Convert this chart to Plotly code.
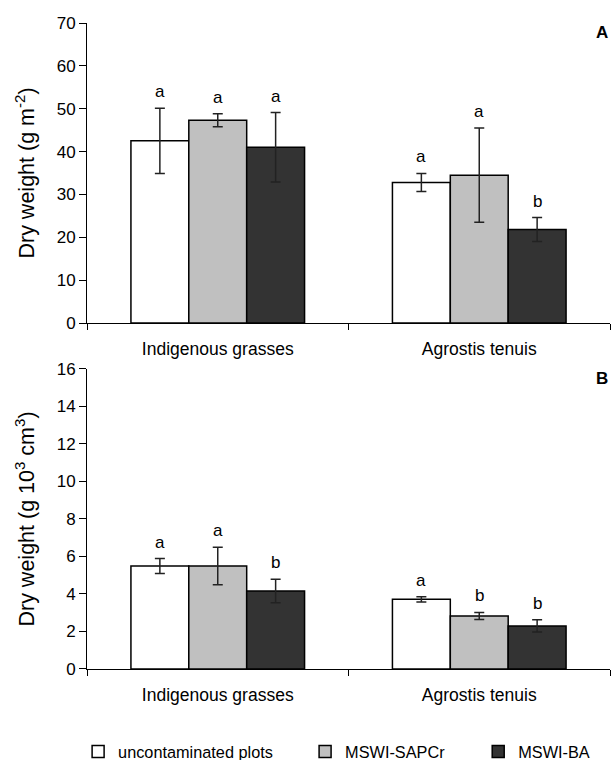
import plotly.graph_objects as go
from plotly.subplots import make_subplots

categories = ["Indigenous grasses", "Agrostis tenuis"]
series_names = ["uncontaminated plots", "MSWI-SAPCr", "MSWI-BA"]
colors = ["#FFFFFF", "#C0C0C0", "#333333"]

# Panel A: dry weight (g m-2)
a_uncont = [42.5, 32.8]
a_sapcr = [47.3, 34.5]
a_ba = [41.0, 21.8]
a_uncont_err = [7.6, 2.1]
a_sapcr_err = [1.5, 11.0]
a_ba_err = [8.1, 2.8]
a_letters_uncont = ["a", "a"]
a_letters_sapcr = ["a", "a"]
a_letters_ba = ["a", "b"]

# Panel B: dry weight (g 10^3 cm^3)
b_uncont = [5.49, 3.72]
b_sapcr = [5.49, 2.83]
b_ba = [4.16, 2.30]
b_uncont_err = [0.40, 0.14]
b_sapcr_err = [1.00, 0.19]
b_ba_err = [0.63, 0.33]
b_letters_uncont = ["a", "a"]
b_letters_sapcr = ["a", "b"]
b_letters_ba = ["b", "b"]

bargap = 0.336
FONT = "Liberation Sans"

fig = make_subplots(rows=2, cols=1, vertical_spacing=0.0712, shared_xaxes=False)

panels = [
    (1, [a_uncont, a_sapcr, a_ba], [a_uncont_err, a_sapcr_err, a_ba_err],
     [a_letters_uncont, a_letters_sapcr, a_letters_ba]),
    (2, [b_uncont, b_sapcr, b_ba], [b_uncont_err, b_sapcr_err, b_ba_err],
     [b_letters_uncont, b_letters_sapcr, b_letters_ba]),
]
legend_ids = ["legend", "legend2", "legend3"]

barw = (1 - bargap) / 3
for row, vals, errs, letters in panels:
    for j in range(3):
        fig.add_trace(go.Bar(
            x=categories, y=vals[j], name=series_names[j],
            marker=dict(color=colors[j], line=dict(color="black", width=1.5)),
            error_y=dict(type="data", array=errs[j], color="#222222", thickness=1.5, width=5),
            showlegend=(row == 1), legend=legend_ids[j],
        ), row=row, col=1)
        for i in range(len(categories)):
            fig.add_annotation(
                x=i + (j - 1) * barw, y=vals[j][i] + errs[j][i],
                xref="x" if row == 1 else "x2", yref="y" if row == 1 else "y2",
                text=letters[j][i], showarrow=False, yanchor="bottom", yshift=5,
                font=dict(size=17, color="black", family=FONT))

fig.update_layout(
    width=615, height=760,
    margin=dict(l=87, r=5, t=23, b=91, autoexpand=False),
    plot_bgcolor="white", paper_bgcolor="white",
    barmode="group", bargap=bargap, bargroupgap=0,
    font=dict(family=FONT, size=16, color="black"),
)

leg_common = dict(orientation="h", yanchor="middle", y=-0.1285, xanchor="left",
                  font=dict(size=16.3, family=FONT), bgcolor="rgba(0,0,0,0)")
fig.update_layout(
    legend=dict(x=-0.017, **leg_common),
    legend2=dict(x=0.417, **leg_common),
    legend3=dict(x=0.748, **leg_common),
)

for r in (1, 2):
    fig.update_xaxes(row=r, col=1, type="category", range=[-0.5, 1.5],
                     showline=True, linecolor="black", linewidth=1,
                     ticks="outside", ticklen=6, tickcolor="black", tickson="boundaries",
                     showgrid=False, tickfont=dict(size=17.5), ticklabelstandoff=10)

fig.update_yaxes(row=1, col=1, range=[0, 70], dtick=10,
                 title=dict(text="Dry weight (g m<sup>-2</sup>)", font=dict(size=21.5), standoff=16))
fig.update_yaxes(row=2, col=1, range=[0, 16], dtick=2,
                 title=dict(text="Dry weight (g 10<sup>3</sup> cm<sup>3</sup>)", font=dict(size=21.5), standoff=16))
fig.update_yaxes(showline=True, linecolor="black", linewidth=1, ticks="outside", ticklen=7,
                 tickcolor="black", showgrid=False, zeroline=False, tickfont=dict(size=17))

fig.add_annotation(text="<b>A</b>", xref="paper", yref="paper", x=1.0, y=1.0 - 9 / 646,
                   xanchor="right", yanchor="middle", showarrow=False, font=dict(size=17))
fig.add_annotation(text="<b>B</b>", xref="paper", yref="paper", x=1.0, y=(669 - 378) / 646,
                   xanchor="right", yanchor="middle", showarrow=False, font=dict(size=17))

fig.write_html("out.html", config={"displayModeBar": False},
               post_script="document.body.style.margin='0';document.body.style.overflow='hidden';")
